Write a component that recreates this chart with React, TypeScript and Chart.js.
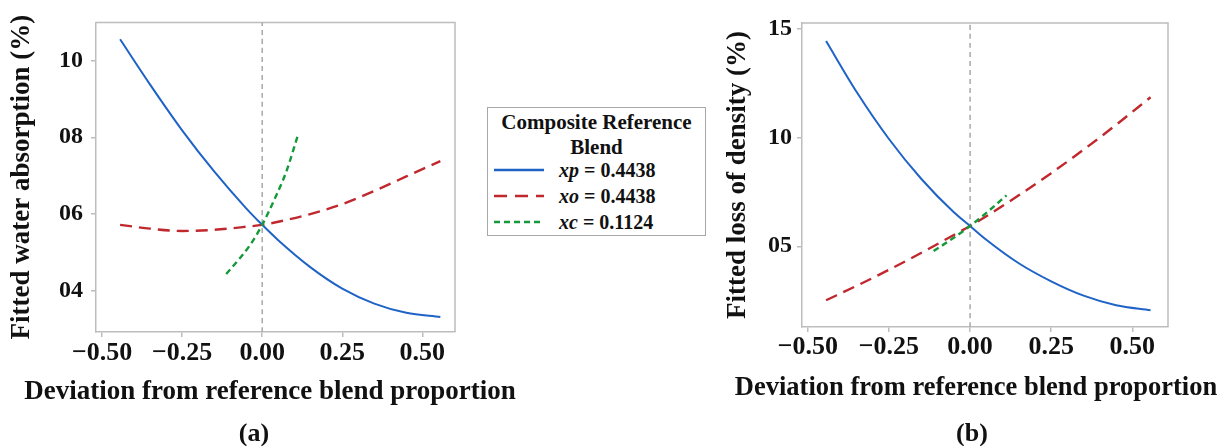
import React, { useEffect, useRef } from "react";
import { Chart, registerables } from "chart.js";
Chart.register(...registerables);

const FONT = "'Liberation Serif', 'Times New Roman', serif";
const BLUE = "#1f63c6";
const RED = "#c0282d";
const GREEN = "#15993a";
const BORDER = "#bdbdbd";
const ZERO_LINE = "#a8a8a8";

// ---------- Panel (a): fitted water absorption ----------
const A_X_LINE = [-0.4438, -0.35, -0.25, -0.15, -0.05, 0, 0.05, 0.15, 0.25, 0.35, 0.45, 0.5562];
const A_XP = [10.55, 9.37, 8.18, 7.11, 6.15, 5.72, 5.32, 4.62, 4.06, 3.67, 3.43, 3.32];
const A_XO = [5.72, 5.62, 5.56, 5.59, 5.67, 5.72, 5.8, 6.0, 6.26, 6.6, 6.98, 7.38];
const A_X_C = [-0.1124, -0.075, -0.0375, 0, 0.0375, 0.075, 0.1124];
const A_XC = [4.44, 4.8, 5.2, 5.72, 6.37, 7.1, 8.08];
const A_X_RANGE = [-0.519, 0.602];
const A_Y_RANGE = [2.93, 10.99];
const A_Y_TICKS = [4, 6, 8, 10];

// ---------- Panel (b): fitted loss of density ----------
const B_X_LINE = [-0.4438, -0.35, -0.25, -0.15, -0.05, 0, 0.05, 0.15, 0.25, 0.35, 0.45, 0.5562];
const B_XP = [14.43, 12.1, 9.93, 8.09, 6.56, 5.93, 5.3, 4.22, 3.39, 2.73, 2.29, 2.06];
const B_XO = [2.52, 3.18, 3.92, 4.7, 5.52, 5.93, 6.38, 7.34, 8.36, 9.44, 10.58, 11.85];
const B_X_C = [-0.1124, -0.0562, 0, 0.0562, 0.1124];
const B_XC = [4.78, 5.33, 5.93, 6.61, 7.34];
const B_X_RANGE = [-0.518, 0.61];
const B_Y_RANGE = [1.29, 15.26];
const B_Y_TICKS = [5, 10, 15];

const X_TICKS = [-0.5, -0.25, 0, 0.25, 0.5];
const X_TITLE = "Deviation from reference blend proportion";

const LEGEND_TITLE = ["Composite Reference", "Blend"];
const LEGEND_NAMES = ["xp", "xo", "xc"];
const LEGEND_VALUES = ["0.4438", "0.4438", "0.1124"];

const pts = (xs: number[], ys: number[]) => xs.map((x, i) => ({ x, y: ys[i] }));
const fmtX = (v: number) => (v < 0 ? "\u2212" + Math.abs(v).toFixed(2) : v.toFixed(2));
const fmtY = (v: number) => String(Math.round(v)).padStart(2, "0");

const boxPlugin = {
  id: "plotBox",
  beforeDatasetsDraw(chart: any) {
    const { ctx, chartArea: a } = chart;
    ctx.save();
    ctx.strokeStyle = BORDER;
    ctx.lineWidth = 1.5;
    ctx.beginPath();
    ctx.moveTo(a.left, a.top);
    ctx.lineTo(a.right, a.top);
    ctx.lineTo(a.right, a.bottom);
    ctx.stroke();
    ctx.restore();
  },
};

type PanelCfg = {
  left: number;
  width: number;
  height: number;
  padTop: number;
  yWidth: number;
  rightSpace: number;
  xHeight: number;
  xRange: number[];
  yRange: number[];
  yTicks: number[];
  yTitle: string;
  yTitlePad: number;
  yTickPad: number;
  xTickPad: number;
  xTitleSize: number;
  xTitlePadBottom: number;
  xLine: number[];
  xp: number[];
  xo: number[];
  xcX: number[];
  xc: number[];
};

function Panel({ cfg }: { cfg: PanelCfg }) {
  const ref = useRef<HTMLCanvasElement | null>(null);
  useEffect(() => {
    if (!ref.current) return;
    const line = (data: any[], color: string, dash: number[], width: number, order: number) => ({
      type: "line",
      data,
      borderColor: color,
      backgroundColor: color,
      borderWidth: width,
      borderDash: dash,
      pointRadius: 0,
      tension: 0.4,
      cubicInterpolationMode: "monotone",
      fill: false,
      order,
    });
    const chart = new Chart(ref.current, {
      type: "line",
      data: {
        datasets: [
          line(pts([0, 0], cfg.yRange), ZERO_LINE, [5, 4], 1.5, 10) as any,
          line(pts(cfg.xLine, cfg.xo), RED, [12, 7], 2.4, 3) as any,
          line(pts(cfg.xLine, cfg.xp), BLUE, [], 2, 2) as any,
          line(pts(cfg.xcX, cfg.xc), GREEN, [6, 4], 2.4, 1) as any,
        ],
      },
      options: {
        responsive: false,
        animation: false,
        devicePixelRatio: 1,
        layout: { padding: { left: 0, right: 0, top: cfg.padTop, bottom: 0 } },
        plugins: {
          legend: { display: false },
          tooltip: { enabled: false },
          title: {
            display: true,
            position: "bottom",
            text: X_TITLE,
            color: "#111",
            align: "center",
            padding: { top: 0, bottom: cfg.xTitlePadBottom },
            font: { family: FONT, size: cfg.xTitleSize, weight: "bold", lineHeight: 1.2 },
          },
        },
        scales: {
          x: {
            type: "linear",
            min: cfg.xRange[0],
            max: cfg.xRange[1],
            afterBuildTicks: (s: any) => {
              s.ticks = X_TICKS.map((v) => ({ value: v }));
            },
            afterFit: (s: any) => {
              s.height = cfg.xHeight;
            },
            grid: { drawOnChartArea: false, drawTicks: true, tickLength: 5, color: BORDER, lineWidth: 1.5 },
            border: { display: true, color: BORDER, width: 1.5 },
            ticks: {
              callback: (v: any) => fmtX(Number(v)),
              color: "#111",
              padding: cfg.xTickPad,
              maxRotation: 0,
              autoSkip: false,
              font: { family: FONT, size: 26, weight: "bold" },
            },
            title: { display: false },
          },
          y: {
            type: "linear",
            min: cfg.yRange[0],
            max: cfg.yRange[1],
            afterBuildTicks: (s: any) => {
              s.ticks = cfg.yTicks.map((v) => ({ value: v }));
            },
            afterFit: (s: any) => {
              s.width = cfg.yWidth;
            },
            grid: { drawOnChartArea: false, drawTicks: true, tickLength: 5, color: BORDER, lineWidth: 1.5 },
            border: { display: true, color: BORDER, width: 1.5 },
            ticks: {
              callback: (v: any) => fmtY(Number(v)),
              color: "#111",
              padding: cfg.yTickPad,
              autoSkip: false,
              font: { family: FONT, size: 24, weight: "bold" },
            },
            title: {
              display: true,
              text: cfg.yTitle,
              color: "#111",
              padding: { top: cfg.yTitlePad, bottom: 0 },
              font: { family: FONT, size: 27, weight: "bold" },
            },
          },
          spacer: {
            type: "linear",
            axis: "y",
            position: "right",
            display: true,
            afterFit: (s: any) => {
              s.width = cfg.rightSpace;
            },
            grid: { display: false, drawTicks: false },
            border: { display: false },
            ticks: { display: false },
            title: { display: false },
          },
        },
      } as any,
      plugins: [boxPlugin],
    });
    return () => chart.destroy();
  }, [cfg]);
  return (
    <canvas
      ref={ref}
      width={cfg.width}
      height={cfg.height}
      style={{ position: "absolute", left: cfg.left, top: 0, width: cfg.width, height: cfg.height, display: "block" }}
    />
  );
}

const PANEL_A: PanelCfg = {
  left: 0,
  width: 540,
  height: 446,
  padTop: 12,
  yWidth: 96,
  rightSpace: 85,
  xHeight: 43.8,
  xRange: A_X_RANGE,
  yRange: A_Y_RANGE,
  yTicks: A_Y_TICKS,
  yTitle: "Fitted water absorption (%)",
  yTitlePad: 6,
  yTickPad: 8,
  xTickPad: 1,
  xTitleSize: 27,
  xTitlePadBottom: 37.8,
  xLine: A_X_LINE,
  xp: A_XP,
  xo: A_XO,
  xcX: A_X_C,
  xc: A_XC,
};

const PANEL_B: PanelCfg = {
  left: 720,
  width: 512,
  height: 446,
  padTop: 23,
  yWidth: 82,
  rightSpace: 64,
  xHeight: 45.1,
  xRange: B_X_RANGE,
  yRange: B_Y_RANGE,
  yTicks: B_Y_TICKS,
  yTitle: "Fitted loss of density (%)",
  yTitlePad: 2,
  yTickPad: 5,
  xTickPad: 0,
  xTitleSize: 26.5,
  xTitlePadBottom: 42.1,
  xLine: B_X_LINE,
  xp: B_XP,
  xo: B_XO,
  xcX: B_X_C,
  xc: B_XC,
};

const LEGEND_STYLES = [
  { color: BLUE, dash: "" },
  { color: RED, dash: "13 8" },
  { color: GREEN, dash: "6 4" },
];
const LEGEND_CENTERS = [62, 87.5, 114];

function Legend() {
  return (
    <div
      style={{
        position: "absolute",
        left: 487,
        top: 107,
        width: 217,
        height: 127,
        border: "1px solid #a8a8a8",
        background: "#fff",
        fontFamily: FONT,
        fontWeight: "bold",
        color: "#111",
      }}
    >
      <div style={{ position: "absolute", left: 0, top: 2, width: 217, textAlign: "center", fontSize: 21, lineHeight: "25px" }}>
        {LEGEND_TITLE[0]}
        <br />
        {LEGEND_TITLE[1]}
      </div>
      {LEGEND_NAMES.map((n, i) => (
        <div key={n} style={{ position: "absolute", left: 0, top: LEGEND_CENTERS[i] - 13, height: 26, width: 217 }}>
          <svg width={52} height={26} style={{ position: "absolute", left: 6, top: 0 }}>
            <line
              x1={0}
              y1={13}
              x2={50}
              y2={13}
              stroke={LEGEND_STYLES[i].color}
              strokeWidth={2.5}
              strokeDasharray={LEGEND_STYLES[i].dash || undefined}
            />
          </svg>
          <span style={{ position: "absolute", left: 71, top: 0, fontSize: 20, lineHeight: "26px", whiteSpace: "nowrap" }}>
            <i>{n}</i> = {LEGEND_VALUES[i]}
          </span>
        </div>
      ))}
    </div>
  );
}

function PanelLabel({ text, cx }: { text: string; cx: number }) {
  return (
    <div
      style={{
        position: "absolute",
        left: cx - 40,
        width: 80,
        top: 420,
        textAlign: "center",
        fontFamily: FONT,
        fontWeight: "bold",
        fontSize: 26,
        lineHeight: "26px",
        color: "#111",
      }}
    >
      {text}
    </div>
  );
}

export default function App() {
  return (
    <div style={{ position: "absolute", left: 0, top: 0, width: 1232, height: 446, background: "#fff", overflow: "hidden" }}>
      <Panel cfg={PANEL_A} />
      <Panel cfg={PANEL_B} />
      <Legend />
      <PanelLabel text="(a)" cx={254} />
      <PanelLabel text="(b)" cx={972} />
    </div>
  );
}
